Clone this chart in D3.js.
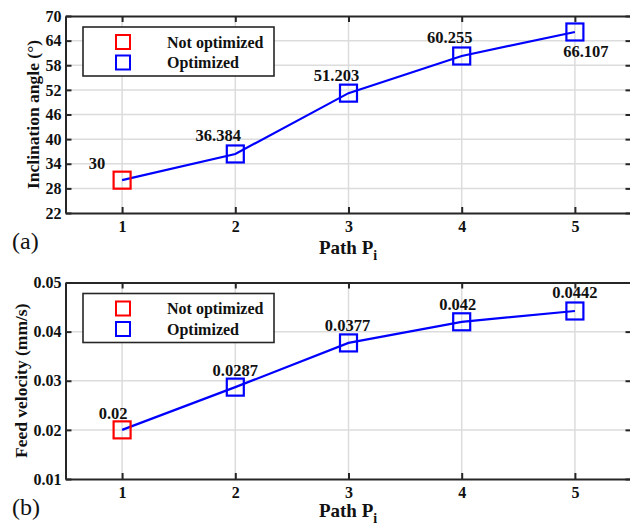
<!DOCTYPE html>
<html>
<head>
<meta charset="utf-8">
<script src="https://cdn.jsdelivr.net/npm/d3@7"></script>
<style>
  html, body { margin: 0; padding: 0; background: #fff; }
  svg { display: block; }
  text { font-family: "Liberation Serif", "Times New Roman", serif; }
</style>
</head>
<body>
<svg id="chart" width="630" height="526"></svg>
<script>
// Path indices shared by both panels
const paths = [1, 2, 3, 4, 5];

// Panel (a): inclination angle per path (degrees)
const angleValues = [30, 36.384, 51.203, 60.255, 66.107];
const angleLabels = ["30", "36.384", "51.203", "60.255", "66.107"];
const angleTicks = [22, 28, 34, 40, 46, 52, 58, 64, 70];

// Panel (b): feed velocity per path (mm/s)
const velocityValues = [0.02, 0.0287, 0.0377, 0.042, 0.0442];
const velocityLabels = ["0.02", "0.0287", "0.0377", "0.042", "0.0442"];
const velocityTicks = [0.01, 0.02, 0.03, 0.04, 0.05];

// Legend entries: first path is the baseline, the rest are optimized
const legendNames = ["Not optimized", "Optimized"];

const RED = "#ff0000", BLUE = "#0000ff", AXIS = "#262626", GRID = "#dcdcdc";
const svg = d3.select("#chart");

function panel(cfg) {
  const x = d3.scaleLinear().domain([0.5, 5.5]).range([65.5, 631.5]);
  const y = d3.scaleLinear().domain(cfg.domain).range([cfg.bottom, cfg.top]);
  const g = svg.append("g");

  // grid
  g.selectAll(".gx").data(paths).join("line")
    .attr("x1", d => x(d)).attr("x2", d => x(d))
    .attr("y1", cfg.top).attr("y2", cfg.bottom)
    .attr("stroke", GRID).attr("stroke-width", 1.5);
  g.selectAll(".gy").data(cfg.ticks.slice(1, -1)).join("line")
    .attr("x1", x.range()[0]).attr("x2", x.range()[1])
    .attr("y1", d => y(d)).attr("y2", d => y(d))
    .attr("stroke", GRID).attr("stroke-width", 1.5);

  // axes: ticks pointing inward, box on all four sides
  const tickLen = 6;
  const bottomAxis = d3.axisBottom(x).tickValues(paths).tickFormat(d3.format("d"))
    .tickSizeInner(-tickLen).tickSizeOuter(0).tickPadding(8);
  const topAxis = d3.axisTop(x).tickValues(paths).tickFormat("")
    .tickSizeInner(-tickLen).tickSizeOuter(0);
  const leftAxis = d3.axisLeft(y).tickValues(cfg.ticks).tickFormat(cfg.fmt)
    .tickSizeInner(-tickLen).tickSizeOuter(0).tickPadding(4);
  const rightAxis = d3.axisRight(y).tickValues(cfg.ticks).tickFormat("")
    .tickSizeInner(-tickLen).tickSizeOuter(0);

  const styleAxis = sel => {
    sel.select(".domain").attr("stroke", AXIS).attr("stroke-width", 2);
    sel.selectAll(".tick line").attr("stroke", AXIS).attr("stroke-width", 2);
    sel.selectAll(".tick text").attr("fill", "#111")
      .style("font-family", '"Liberation Serif", serif')
      .style("font-weight", "bold").style("font-size", "16px");
  };
  g.append("g").attr("transform", `translate(0,${cfg.bottom})`).call(bottomAxis).call(styleAxis);
  g.append("g").attr("transform", `translate(0,${cfg.top})`).call(topAxis).call(styleAxis);
  g.append("g").attr("transform", `translate(${x.range()[0]},0)`).call(leftAxis).call(styleAxis);
  g.append("g").attr("transform", `translate(${x.range()[1]},0)`).call(rightAxis).call(styleAxis);

  // series line
  const line = d3.line().x((d, i) => x(paths[i])).y(d => y(d));
  g.append("path").datum(cfg.values).attr("d", line)
    .attr("fill", "none").attr("stroke", BLUE).attr("stroke-width", 2.2);

  // square markers
  const ms = 17;
  g.selectAll(".mk").data(cfg.values).join("rect")
    .attr("x", (d, i) => x(paths[i]) - ms / 2).attr("y", d => y(d) - ms / 2)
    .attr("width", ms).attr("height", ms).attr("fill", "none")
    .attr("stroke", (d, i) => i === 0 ? RED : BLUE).attr("stroke-width", 2.2);

  // value labels
  g.selectAll(".lbl").data(cfg.values).join("text")
    .attr("x", (d, i) => x(paths[i]) + cfg.labelOffsets[i][0])
    .attr("y", d => y(d))
    .attr("dy", (d, i) => cfg.labelOffsets[i][1] + 5.5)
    .attr("text-anchor", "middle")
    .style("font-weight", "bold").style("font-size", "16.5px").attr("fill", "#111")
    .text((d, i) => cfg.labels[i]);

  // legend
  const lg = g.append("g");
  lg.append("rect").attr("x", 83).attr("y", cfg.top + 11).attr("width", 191).attr("height", 49)
    .attr("fill", "#fff").attr("stroke", AXIS).attr("stroke-width", 1.6);
  legendNames.forEach((name, i) => {
    const cy = cfg.top + 26 + i * 20.5;
    lg.append("rect").attr("x", 123 - 7).attr("y", cy - 7).attr("width", 14).attr("height", 14)
      .attr("fill", "none").attr("stroke", i === 0 ? RED : BLUE).attr("stroke-width", 2);
    lg.append("text").attr("x", 167).attr("y", cy).attr("dy", 5.5)
      .style("font-weight", "bold").style("font-size", "16px").attr("fill", "#111").text(name);
  });

  // x title with subscript
  const xt = g.append("text").attr("x", 348).attr("y", cfg.bottom + cfg.xTitleGap)
    .attr("text-anchor", "middle").style("font-weight", "bold").style("font-size", "19px").attr("fill", "#111");
  xt.append("tspan").text("Path P");
  xt.append("tspan").attr("dy", 6).style("font-size", "14px").text("i");

  // y title
  g.append("text")
    .attr("transform", `translate(${cfg.yTitleX},${(cfg.top + cfg.bottom) / 2}) rotate(-90)`)
    .attr("text-anchor", "middle").attr("dy", "0.35em")
    .style("font-weight", "bold").style("font-size", "17.5px").attr("fill", "#111")
    .text(cfg.yTitle);

  // panel tag
  g.append("text").attr("x", 12).attr("y", cfg.bottom + 36)
    .style("font-size", "24px").attr("fill", "#111").text(cfg.tag);
}

panel({
  top: 16, bottom: 213, domain: [22, 70], ticks: angleTicks, fmt: d3.format("d"),
  values: angleValues, labels: angleLabels,
  labelOffsets: [[-25, -17], [-17, -18], [-12, -18], [-12, -18], [11, 20]],
  yTitle: "Inclination angle (°)", tag: "(a)", yTitleX: 33, xTitleGap: 41
});

panel({
  top: 282.5, bottom: 479, domain: [0.01, 0.05], ticks: velocityTicks, fmt: d3.format(".2f"),
  values: velocityValues, labels: velocityLabels,
  labelOffsets: [[-9, -16], [0, -17], [-1, -17], [-4, -17], [0, -18]],
  yTitle: "Feed velocity (mm/s)", tag: "(b)", yTitleX: 21, xTitleGap: 38
});
</script>
</body>
</html>
